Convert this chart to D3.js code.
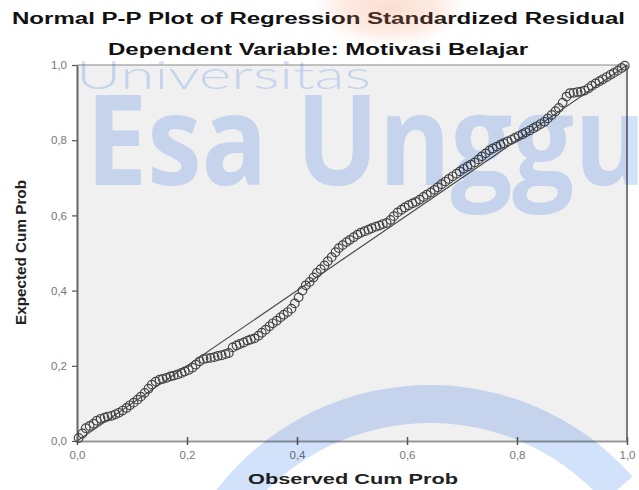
<!DOCTYPE html>
<html>
<head>
<meta charset="utf-8">
<script src="https://cdn.jsdelivr.net/npm/d3@7"></script>
<style>
  html, body { margin: 0; padding: 0; background: #fff; }
  svg { display: block; }
</style>
</head>
<body>
<svg id="chart" width="639" height="490"></svg>
<script>
// ---- data ----
const titleText = "Normal P-P Plot of Regression Standardized Residual";
const subtitleText = "Dependent Variable: Motivasi Belajar";
const xLabel = "Observed Cum Prob";
const yLabel = "Expected Cum Prob";
const tickValues = [0, 0.2, 0.4, 0.6, 0.8, 1.0];
const tickLabels = ["0,0", "0,2", "0,4", "0,6", "0,8", "1,0"];

const observed = [
  .003,.010,.016,.023,.030,.036,.043,.050,.056,.063,
  .070,.076,.083,.090,.096,.103,.110,.116,.123,.130,
  .136,.143,.150,.156,.163,.170,.176,.183,.190,.196,
  .203,.210,.216,.223,.230,.236,.243,.250,.256,.263,
  .270,.276,.283,.290,.296,.303,.310,.316,.323,.330,
  .336,.343,.350,.356,.363,.370,.376,.383,.390,.396,
  .403,.410,.416,.423,.430,.436,.443,.450,.456,.463,
  .470,.476,.483,.490,.496,.503,.510,.516,.523,.530,
  .536,.543,.550,.556,.563,.570,.576,.583,.590,.596,
  .603,.610,.616,.623,.630,.636,.643,.650,.656,.663,
  .670,.676,.683,.690,.696,.703,.710,.716,.723,.730,
  .736,.743,.750,.756,.763,.770,.776,.783,.790,.796,
  .803,.810,.816,.823,.830,.836,.843,.850,.856,.863,
  .870,.876,.883,.890,.896,.903,.910,.916,.923,.930,
  .936,.943,.950,.956,.963,.970,.976,.983,.990,.996
];
const expected = [
  .008,.020,.034,.040,.046,.054,.059,.062,.065,.067,
  .071,.075,.081,.088,.095,.102,.110,.118,.128,.139,
  .150,.158,.163,.165,.168,.172,.174,.177,.181,.185,
  .189,.195,.203,.212,.218,.220,.221,.223,.226,.228,
  .231,.234,.249,.254,.258,.262,.267,.270,.273,.280,
  .288,.296,.305,.313,.320,.329,.336,.343,.352,.366,
  .382,.400,.414,.423,.435,.447,.457,.467,.478,.489,
  .502,.513,.521,.529,.535,.542,.549,.554,.558,.562,
  .566,.570,.573,.577,.580,.588,.598,.608,.615,.621,
  .627,.632,.636,.642,.649,.655,.661,.668,.675,.683,
  .690,.697,.704,.711,.717,.724,.730,.735,.741,.749,
  .757,.765,.773,.778,.783,.788,.792,.797,.801,.806,
  .811,.816,.821,.826,.832,.837,.843,.849,.858,.867,
  .877,.886,.900,.916,.925,.926,.928,.929,.932,.938,
  .945,.951,.957,.962,.968,.974,.979,.985,.992,.998
];
const points = observed.map((x, i) => ({ x, y: expected[i] }));

// ---- layout ----
const svg = d3.select("#chart");
const plot = { left: 77, right: 627, top: 65, bottom: 441 };
const x = d3.scaleLinear().domain([0, 1]).range([plot.left, plot.right]);
const y = d3.scaleLinear().domain([0, 1]).range([plot.bottom, plot.top]);

const defs = svg.append("defs");
const grad = defs.append("radialGradient").attr("id", "peach");
grad.append("stop").attr("offset", "0%").attr("stop-color", "rgb(240,140,90)").attr("stop-opacity", 0.28);
grad.append("stop").attr("offset", "60%").attr("stop-color", "rgb(240,140,90)").attr("stop-opacity", 0.18);
grad.append("stop").attr("offset", "100%").attr("stop-color", "rgb(240,140,90)").attr("stop-opacity", 0);

// plot background
svg.append("rect")
  .attr("x", plot.left).attr("y", plot.top)
  .attr("width", plot.right - plot.left).attr("height", plot.bottom - plot.top)
  .attr("fill", "#f0f0f0");

// frame (top & right)
svg.append("line").attr("x1", plot.left).attr("x2", plot.right).attr("y1", plot.top).attr("y2", plot.top)
  .attr("stroke", "#888").attr("stroke-width", 1.2);
svg.append("line").attr("x1", plot.right).attr("x2", plot.right).attr("y1", plot.top).attr("y2", plot.bottom)
  .attr("stroke", "#555").attr("stroke-width", 1.5);

// axes
const xAxis = d3.axisBottom(x).tickValues(tickValues).tickFormat((d, i) => tickLabels[i]).tickSize(5).tickSizeOuter(0);
const yAxis = d3.axisLeft(y).tickValues(tickValues).tickFormat((d, i) => tickLabels[i]).tickSize(5).tickSizeOuter(0);

const gx = svg.append("g").attr("transform", `translate(0,${plot.bottom})`).call(xAxis);
gx.select(".domain").attr("stroke", "#999").attr("stroke-width", 2);
gx.selectAll(".tick line").attr("stroke", "#555").attr("stroke-width", 1.5).attr("y1", -4).attr("y2", 4);
gx.selectAll(".tick text").attr("fill", "#777").attr("font-family", "Liberation Sans, Arial, sans-serif")
  .attr("font-size", 11.5).attr("dy", "1em").attr("y", 6);

const gy = svg.append("g").attr("transform", `translate(${plot.left},0)`).call(yAxis);
gy.select(".domain").attr("stroke", "#666").attr("stroke-width", 2);
gy.selectAll(".tick line").attr("stroke", "#555").attr("stroke-width", 1.2);
gy.selectAll(".tick text").attr("fill", "#777").attr("font-family", "Liberation Sans, Arial, sans-serif")
  .attr("font-size", 11.5).attr("x", -10);

// reference diagonal
svg.append("line")
  .attr("x1", x(0)).attr("y1", y(0)).attr("x2", x(1)).attr("y2", y(1))
  .attr("stroke", "#4a4a4a").attr("stroke-width", 1.2);

// points
svg.append("g").selectAll("circle").data(points).join("circle")
  .attr("cx", d => x(d.x)).attr("cy", d => y(d.y)).attr("r", 4.3)
  .attr("fill", "none").attr("stroke", "#444").attr("stroke-width", 1.2);

// titles
svg.append("text").attr("x", 12).attr("y", 24).text(titleText)
  .attr("font-family", "Liberation Sans, Arial, sans-serif").attr("font-weight", "bold")
  .attr("font-size", 16).attr("fill", "#111")
  .attr("textLength", 613).attr("lengthAdjust", "spacingAndGlyphs");
svg.append("text").attr("x", 108).attr("y", 55).text(subtitleText)
  .attr("font-family", "Liberation Sans, Arial, sans-serif").attr("font-weight", "bold")
  .attr("font-size", 16).attr("fill", "#111")
  .attr("textLength", 420).attr("lengthAdjust", "spacingAndGlyphs");
svg.append("text").attr("x", 248).attr("y", 484).text(xLabel)
  .attr("font-family", "Liberation Sans, Arial, sans-serif").attr("font-weight", "bold")
  .attr("font-size", 14).attr("fill", "#222")
  .attr("textLength", 210).attr("lengthAdjust", "spacingAndGlyphs");
svg.append("text").attr("transform", "translate(26,325) rotate(-90)").text(yLabel)
  .attr("font-family", "Liberation Sans, Arial, sans-serif").attr("font-weight", "bold")
  .attr("font-size", 14).attr("fill", "#222")
  .attr("textLength", 145).attr("lengthAdjust", "spacingAndGlyphs");

// ---- watermark overlay ----
const wm = svg.append("g").style("mix-blend-mode", "multiply").attr("fill", "#d2e2fb");
wm.append("path")
  .attr("transform", "translate(430,655)")
  .attr("d", d3.arc().innerRadius(232).outerRadius(270).startAngle(-Math.PI * 0.33).endAngle(Math.PI * 0.27)());
wm.append("text").attr("x", 76).attr("y", 89).text("Universitas")
  .attr("font-family", "Lato, 'Open Sans', sans-serif").attr("font-weight", 300)
  .attr("font-size", 40).attr("textLength", 295).attr("lengthAdjust", "spacingAndGlyphs");
wm.append("text").attr("x", 86).attr("y", 185).text("Esa Unggu")
  .attr("font-family", "'Open Sans', sans-serif").attr("font-weight", 700)
  .attr("font-size", 126).attr("textLength", 560).attr("lengthAdjust", "spacingAndGlyphs");

svg.append("ellipse").attr("cx", 390).attr("cy", 8).attr("rx", 75).attr("ry", 38)
  .attr("fill", "url(#peach)");
</script>
</body>
</html>
